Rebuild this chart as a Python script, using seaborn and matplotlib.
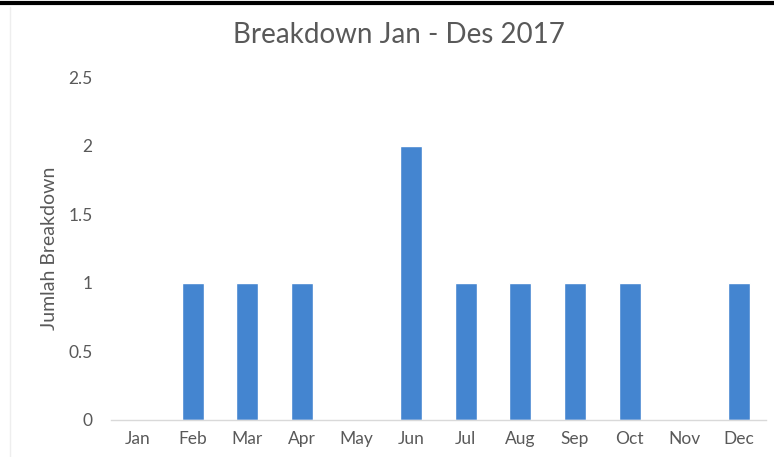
import matplotlib
matplotlib.use("Agg")
import matplotlib.pyplot as plt
from matplotlib.lines import Line2D
import seaborn as sns
import pandas as pd

months = ["Jan", "Feb", "Mar", "Apr", "May", "Jun", "Jul", "Aug", "Sep", "Oct", "Nov", "Dec"]
breakdowns = [0, 1, 1, 1, 0, 2, 1, 1, 1, 1, 0, 1]
y_ticks = [0, 0.5, 1, 1.5, 2, 2.5]
y_tick_labels = ["0", "0.5", "1", "1.5", "2", "2.5"]

sns.set_theme(style="white")
plt.rcParams["font.family"] = ["Lato", "DejaVu Sans"]

df = pd.DataFrame({"Month": months, "Jumlah": breakdowns})

fig = plt.figure(figsize=(7.74, 4.57), dpi=100)
ax = fig.add_axes([0.143, 0.081, 0.847, 0.7505])

sns.barplot(data=df, x="Month", y="Jumlah", color="#4485d0", width=0.4,
            saturation=1, ax=ax)

ax.set_ylim(0, 2.5)
ax.set_yticks(y_ticks)
ax.set_yticklabels(y_tick_labels)
ax.set_xlim(-0.5, 11.5)
for s in ["top", "right", "left"]:
    ax.spines[s].set_visible(False)
ax.spines["bottom"].set_color("#d9d9d9")
ax.spines["bottom"].set_linewidth(1.0)
ax.tick_params(axis="both", length=0, labelsize=12.5, colors="#595959", pad=8)
ax.tick_params(axis="y", pad=13)
ax.set_xlabel("")
ax.set_ylabel("Jumlah Breakdown", fontsize=14, color="#595959")
ax.yaxis.set_label_coords(-0.081, 0.5)

fig.text(0.515, 0.923, "Breakdown Jan - Des 2017", ha="center", va="center",
         fontsize=20, color="#595959")

fig.add_artist(Line2D([0, 1], [0.993, 0.993], color="black", lw=3,
                      transform=fig.transFigure))
fig.add_artist(Line2D([0.013, 0.013], [0, 0.985], color="#eeeeee", lw=1,
                      transform=fig.transFigure))

fig.savefig("out.png", dpi=100)
